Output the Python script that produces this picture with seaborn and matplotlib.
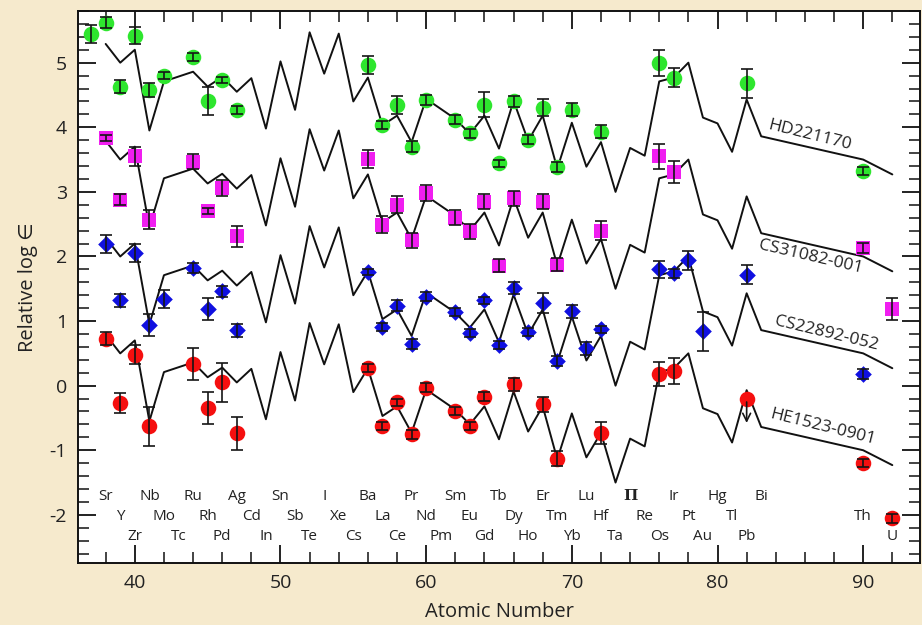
import numpy as np
import pandas as pd
import matplotlib
matplotlib.use("Agg")
import matplotlib.pyplot as plt
import seaborn as sns
from matplotlib.ticker import MultipleLocator

# ---------------- data ----------------
solar_z = [38, 39, 40, 41, 42, 44, 45, 46, 47, 48, 49, 50, 51, 52, 53, 54, 55, 56, 57, 58, 59, 60,
           62, 63, 64, 65, 66, 67, 68, 69, 70, 71, 72, 73, 74, 75, 76, 77, 78, 79, 80, 81, 82, 83,
           90, 92]
solar_hd = [5.29, 5.00, 5.20, 3.95, 4.71, 4.86, 4.63, 4.78, 4.55, 4.76, 3.98, 5.02, 4.27, 5.47, 4.83,
            5.45, 4.40, 4.77, 4.03, 4.18, 3.77, 4.44,
            4.13, 3.90, 4.18, 3.67, 4.41, 3.79, 4.18, 3.36, 4.07, 3.39, 3.77, 3.00, 3.68, 3.56, 4.71,
            4.77, 5.00, 4.15, 4.06, 3.62, 4.43, 3.86,
            3.50, 3.27]
star_names = ["HD221170", "CS31082-001", "CS22892-052", "HE1523-0901"]
solar_offsets = [0.0, -1.5, -3.0, -4.5]

hd_z = [37, 38, 39, 40, 41, 42, 44, 45, 46, 47, 56, 57, 58, 59, 60, 62, 63, 64, 65, 66, 67, 68, 69,
        70, 72, 76, 77, 82, 90]
hd_val = [5.45, 5.62, 4.63, 5.42, 4.58, 4.80, 5.09, 4.41, 4.73, 4.27, 4.97, 4.04, 4.35, 3.70, 4.42,
          4.12, 3.91, 4.35, 3.44, 4.40, 3.81, 4.30, 3.38, 4.27, 3.93, 4.99, 4.77, 4.68, 3.32]
hd_err = [0.14, 0.08, 0.10, 0.13, 0.11, 0.06, 0.06, 0.22, 0.05, 0.06, 0.14, 0.06, 0.14, 0.08, 0.08,
          0.07, 0.07, 0.19, 0.06, 0.08, 0.07, 0.13, 0.08, 0.10, 0.10, 0.20, 0.14, 0.22, 0.06]

cs31_z = [38, 39, 40, 41, 44, 45, 46, 47, 56, 57, 58, 59, 60, 62, 63, 64, 65, 66, 68, 69, 72, 76, 77,
          90, 92]
cs31_val = [3.83, 2.88, 3.55, 2.57, 3.47, 2.70, 3.06, 2.31, 3.51, 2.49, 2.80, 2.25, 2.98, 2.60, 2.39,
            2.85, 1.86, 2.90, 2.85, 1.87, 2.40, 3.55, 3.31, 2.13, 1.19]
cs31_err = [0.05, 0.08, 0.15, 0.15, 0.11, 0.05, 0.12, 0.16, 0.14, 0.13, 0.13, 0.12, 0.12, 0.12, 0.12,
            0.12, 0.10, 0.12, 0.12, 0.10, 0.15, 0.19, 0.17, 0.08, 0.17]

cs22_z = [38, 39, 40, 41, 42, 44, 45, 46, 47, 56, 57, 58, 59, 60, 62, 63, 64, 65, 66, 67, 68, 69, 70,
          71, 72, 76, 77, 78, 79, 82, 90]
cs22_val = [2.20, 1.32, 2.05, 0.94, 1.34, 1.82, 1.19, 1.46, 0.86, 1.76, 0.91, 1.24, 0.65, 1.38, 1.14,
            0.81, 1.32, 0.63, 1.51, 0.83, 1.28, 0.38, 1.15, 0.58, 0.87, 1.80, 1.74, 1.94, 0.84, 1.72,
            0.18]
cs22_err = [0.14, 0.10, 0.14, 0.17, 0.14, 0.08, 0.17, 0.08, 0.10, 0.04, 0.06, 0.08, 0.08, 0.07, 0.06,
            0.06, 0.06, 0.06, 0.09, 0.06, 0.15, 0.08, 0.10, 0.10, 0.05, 0.13, 0.07, 0.15, 0.30, 0.15,
            0.08]

he_z = [38, 39, 40, 41, 44, 45, 46, 47, 56, 57, 58, 59, 60, 62, 63, 64, 66, 68, 69, 72, 76, 77, 90, 92]
he_val = [0.73, -0.27, 0.48, -0.63, 0.34, -0.35, 0.05, -0.74, 0.27, -0.63, -0.26, -0.75, -0.03, -0.39,
          -0.62, -0.17, 0.02, -0.29, -1.13, -0.73, 0.18, 0.23, -1.20, -2.05]
he_err = [0.10, 0.15, 0.15, 0.30, 0.25, 0.25, 0.30, 0.25, 0.06, 0.06, 0.06, 0.07, 0.07, 0.06, 0.06,
          0.07, 0.10, 0.12, 0.12, 0.17, 0.19, 0.20, 0.06, 0.07]
he_limit_z = [82]
he_limit_val = [-0.21]
he_limit_to = [-0.62]

el_row1 = ["Sr", "Nb", "Ru", "Ag", "Sn", "I", "Ba", "Pr", "Sm", "Tb", "Er", "Lu", "Π", "Ir", "Hg", "Bi"]
el_row1_z = [38, 41, 44, 47, 50, 53, 56, 59, 62, 65, 68, 71, 74, 77, 80, 83]
el_row2 = ["Y", "Mo", "Rh", "Cd", "Sb", "Xe", "La", "Nd", "Eu", "Dy", "Tm", "Hf", "Re", "Pt", "Tl", "Th"]
el_row2_z = [39, 42, 45, 48, 51, 54, 57, 60, 63, 66, 69, 72, 75, 78, 81, 90]
el_row3 = ["Zr", "Tc", "Pd", "In", "Te", "Cs", "Ce", "Pm", "Gd", "Ho", "Yb", "Ta", "Os", "Au", "Pb", "U"]
el_row3_z = [40, 43, 46, 49, 52, 55, 58, 61, 64, 67, 70, 73, 76, 79, 82, 92]

# ---------------- style ----------------
sns.set_theme(style="ticks")
FONT = ["Open Sans", "DejaVu Sans"]
plt.rcParams["font.family"] = FONT
plt.rcParams["axes.unicode_minus"] = False
BG = "#F6EACD"
INK = "#222222"

fig = plt.figure(figsize=(9.22, 6.25), dpi=100, facecolor=BG)
ax = fig.add_axes([78 / 922, 1 - 563.3 / 625, (920 - 78) / 922, (563.3 - 11) / 625])
ax.set_facecolor("white")

# solar r-process curves
line_df = pd.concat([
    pd.DataFrame({"Z": solar_z, "val": np.array(solar_hd) + off, "star": name})
    for name, off in zip(star_names, solar_offsets)
], ignore_index=True)
sns.lineplot(data=line_df, x="Z", y="val", units="star", estimator=None, sort=False,
             color="#111111", lw=1.4, ax=ax, zorder=2)

stars = [
    (hd_z, hd_val, hd_err, "#2EE62E", "o", 125),
    (cs31_z, cs31_val, cs31_err, "#F01EF0", "s", 95),
    (cs22_z, cs22_val, cs22_err, "#1010E0", "D", 72),
    (he_z, he_val, he_err, "#F50F0F", "o", 125),
]
for z, v, e, col, mk, size in stars:
    df = pd.DataFrame({"Z": z, "val": v})
    sns.scatterplot(data=df, x="Z", y="val", color=col, marker=mk, s=size, linewidth=0,
                    ax=ax, zorder=3, legend=False)
    ax.errorbar(z, v, yerr=e, fmt="none", ecolor="#151515", elinewidth=1.2, capsize=4.5,
                capthick=1.2, zorder=4)

# Pb upper limit for HE1523-0901
lim_df = pd.DataFrame({"Z": he_limit_z, "val": he_limit_val})
sns.scatterplot(data=lim_df, x="Z", y="val", color="#F50F0F", marker="o", s=125, linewidth=0,
                ax=ax, zorder=3, legend=False)
for z, v0, v1 in zip(he_limit_z, he_limit_val, he_limit_to):
    ax.annotate("", xy=(z, v1), xytext=(z, v0),
                arrowprops=dict(arrowstyle="->", lw=1.2, color="#151515", mutation_scale=14),
                zorder=4)

# star labels along curves
label_pos = [(86.3, 3.87, -14), (86.4, 1.99, -13), (87.5, 0.81, -13.5), (87.2, -0.64, -14)]
for name, (x, y, rot) in zip(star_names, label_pos):
    ax.text(x, y, name, rotation=rot, rotation_mode="anchor", ha="center", va="center",
            fontsize=12.5, color=INK, zorder=5)

# element labels
row_y = [-1.71, -2.02, -2.33]
for names, zs, yy in zip([el_row1, el_row2, el_row3], [el_row1_z, el_row2_z, el_row3_z], row_y):
    for n, z in zip(names, zs):
        fam = ["DejaVu Serif"] if n == "Π" else FONT
        ax.text(z, yy, n, ha="center", va="center", fontsize=11, color=INK, family=fam,
                fontweight="bold" if n == "Π" else "normal")

# axes
ax.set_xlim(36.1, 93.9)
ax.set_ylim(-2.75, 5.8)
ax.xaxis.set_major_locator(MultipleLocator(10))
ax.xaxis.set_minor_locator(MultipleLocator(2))
ax.yaxis.set_major_locator(MultipleLocator(1))
ax.yaxis.set_minor_locator(MultipleLocator(0.2))
ax.tick_params(which="both", direction="in", top=True, right=True, colors="#111111",
               labelcolor=INK, labelsize=14)
ax.tick_params(which="major", length=13, width=1.3)
ax.tick_params(which="minor", length=8, width=1.1)
ax.tick_params(axis="x", which="major", pad=8)
ax.tick_params(axis="y", which="major", pad=8)
for sp in ax.spines.values():
    sp.set_color("#111111")
    sp.set_linewidth(1.4)

ax.set_xlabel("Atomic Number", fontsize=14.5, color=INK, labelpad=7)
ax.set_ylabel("Relative log ∈", fontsize=14.5, color=INK, labelpad=8)

fig.savefig("out.png", dpi=100, facecolor=BG)
